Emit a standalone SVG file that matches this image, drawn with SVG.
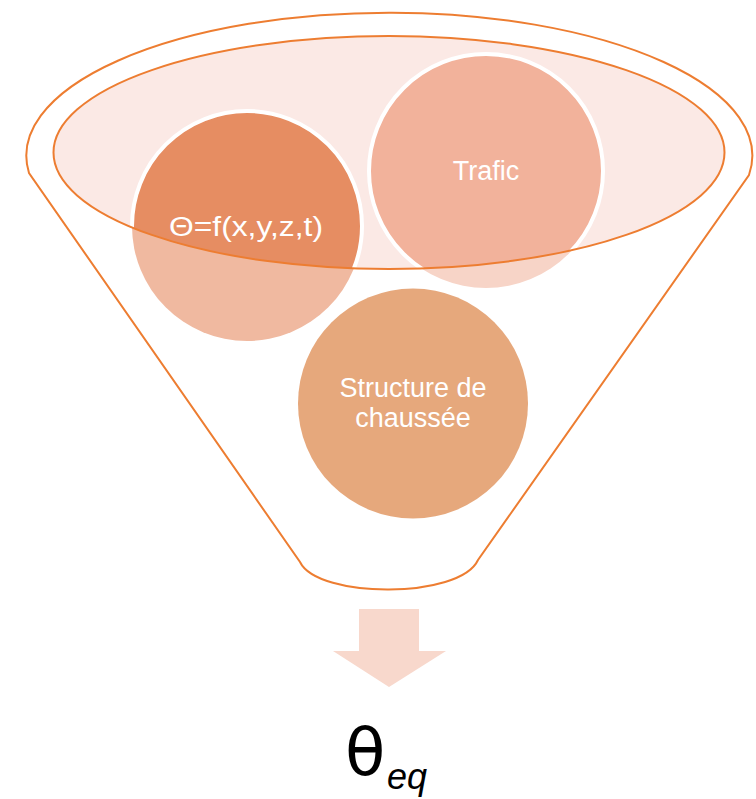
<svg xmlns="http://www.w3.org/2000/svg" width="756" height="799" viewBox="0 0 756 799">
<style>
.outline{fill:none;stroke:#ED7D31;stroke-width:2}
.lbl{fill:#FFFFFF;font-family:"Liberation Sans",Arial,sans-serif;font-size:27px;text-anchor:middle}
.ring{stroke:#FFFFFF;stroke-width:4}
</style>
<defs>
<clipPath id="lidClip"><ellipse cx="389" cy="152.5" rx="335.5" ry="116.5"/></clipPath>
</defs>
<rect width="756" height="799" fill="#FFFFFF"/>
<g id="funnel">
<path class="outline" d="M 29 173 A 363 143 0 1 1 749 175 L 478 560 C 460 599 318 599 300 562 Z" fill="#FFFFFF"/>
<ellipse id="lid" cx="389" cy="152.5" rx="335.5" ry="116.5" fill="#FBE9E5"/>
</g>
<g id="node-theta">
<circle cx="247" cy="226" r="115" fill="#F0B9A0"/>
<circle cx="247" cy="226" r="115" fill="#E68D62" class="ring" clip-path="url(#lidClip)"/>
<text class="lbl" x="246" y="236" textLength="154" lengthAdjust="spacingAndGlyphs">Θ=f(x,y,z,t)</text>
</g>
<g id="node-trafic">
<circle cx="486" cy="171" r="117" fill="#F7D4C7"/>
<circle cx="486" cy="171" r="117" fill="#F2B29B" class="ring" clip-path="url(#lidClip)"/>
<text class="lbl" x="486" y="180">Trafic</text>
</g>
<ellipse class="outline" cx="389" cy="152.5" rx="335.5" ry="116.5"/>
<g id="node-structure">
<circle cx="413" cy="403.5" r="115" fill="#E6A87C"/>
<text class="lbl" x="413" y="397">Structure de</text>
<text class="lbl" x="413" y="427">chaussée</text>
</g>
<g id="connectors">
<path d="M 359 609 L 419 609 L 419 651 L 446 651 L 389 687 L 333 651 L 359 651 Z" fill="#F8D8CC"/>
</g>
<g id="node-output">
<text x="345" y="775" font-family="'DejaVu Sans',sans-serif" font-size="66" fill="#000000">θ</text>
<text x="387" y="789" font-family="'Liberation Sans',Arial,sans-serif" font-style="italic" font-size="36" fill="#000000">eq</text>
</g>
</svg>
